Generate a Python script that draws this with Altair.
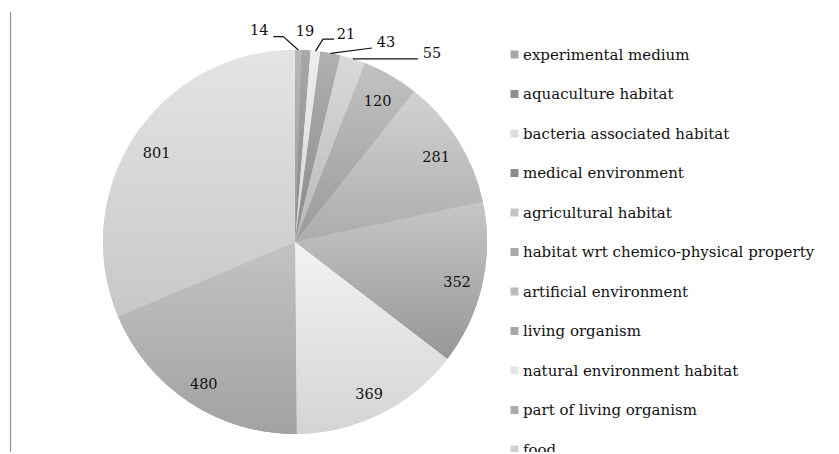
import math
import pandas as pd
import altair as alt

categories = [
    "experimental medium", "aquaculture habitat", "bacteria associated habitat",
    "medical environment", "agricultural habitat",
    "habitat wrt chemico-physical property", "artificial environment",
    "living organism", "natural environment habitat", "part of living organism", "food",
]
values = [14, 19, 21, 43, 55, 120, 281, 352, 369, 480, 801]
# slice shading: light (top) and dark (bottom) tone of each slice
tops = ["#b8b8b8", "#a8a8a8", "#eeeeee", "#b0b0b0", "#dadada", "#c2c2c2",
        "#d2d2d2", "#c6c6c6", "#f3f3f3", "#c3c3c3", "#e4e4e4"]
bottoms = ["#999999", "#888888", "#d6d6d6", "#8a8a8a", "#b8b8b8", "#9a9a9a",
           "#acacac", "#979797", "#d4d4d4", "#a2a2a2", "#c8c8c8"]
legend_colors = ["#a6a6a6", "#8f8f8f", "#dcdcdc", "#8c8c8c", "#c4c4c4", "#a8a8a8",
                 "#bcbcbc", "#a8a8a8", "#e6e6e6", "#acacac", "#d0d0d0"]

# layout (style) constants
R = 192.0
CX, CY = 287, 234
FONT = "DejaVu Serif"
LABEL_FRAC = 0.865
small_layout = {
    "experimental medium": {"label": (-39, -19), "leader": [(-15, -13.5), (-25, -13.5)]},
    "aquaculture habitat": {"label": (-1, -18.5), "leader": []},
    "bacteria associated habitat": {"label": (30.5, -15.6), "leader": [(7.5, -12), (18.5, -12)]},
    "medical environment": {"label": (55.6, -9.8), "leader": [(41.6, -5.3)]},
    "agricultural habitat": {"label": (79, -5.4), "leader": [(65, 0)]},
}

total = sum(values)
rows, big_rows, small_rows, line_rows = [], [], [], []
cum = 0
for i, (c, v) in enumerate(zip(categories, values)):
    start = cum
    mid = (cum + v / 2) / total * 2 * math.pi
    cum += v
    ux, uy = math.sin(mid), -math.cos(mid)
    rows.append({"cat": c, "value": v, "idx": i, "start": start, "end": cum})
    if c in small_layout:
        lay = small_layout[c]
        lx, ly = lay["label"]
        small_rows.append({"cat": c, "txt": str(v), "x": ux + lx / R, "y": uy + ly / R})
        if lay["leader"]:
            line_rows.append({"cat": c, "pt": 0, "x": ux, "y": uy})
            for k, (px, py) in enumerate(lay["leader"]):
                line_rows.append({"cat": c, "pt": k + 1, "x": ux + px / R, "y": uy + py / R})
    else:
        big_rows.append({"cat": c, "txt": str(v), "x": ux * LABEL_FRAC, "y": uy * LABEL_FRAC})

df = pd.DataFrame(rows)
xs = alt.Scale(domain=[-1, 1], range=[CX - R, CX + R])
ys = alt.Scale(domain=[-1, 1], range=[CY - R, CY + R])
ts = alt.Scale(domain=[0, total], range=[0, 2 * math.pi])

base_arcs = alt.Chart(df).mark_arc(radius=R, strokeWidth=0).encode(
    theta=alt.Theta("start:Q", scale=ts),
    theta2="end:Q",
    color=alt.Color("cat:N", scale=alt.Scale(domain=categories, range=legend_colors),
                    legend=alt.Legend(title=None, orient="none", legendX=499, legendY=39,
                                      symbolType="square", symbolSize=64, symbolStrokeWidth=0,
                                      labelFont=FONT, labelFontSize=15, labelColor="#111",
                                      labelOffset=1, rowPadding=23.5, padding=0,
                                      labelLimit=400)),
    x=alt.value(CX), y=alt.value(CY),
)

shaded = []
for c, t, b in zip(categories, tops, bottoms):
    grad = alt.Gradient(gradient="linear", x1=0, y1=0, x2=0, y2=1,
                        stops=[alt.GradientStop(color=t, offset=0),
                               alt.GradientStop(color=b, offset=1)])
    shaded.append(
        alt.Chart(df).transform_filter(alt.datum.cat == c)
        .mark_arc(radius=R, strokeWidth=0, color=grad)
        .encode(theta=alt.Theta("start:Q", scale=ts), theta2="end:Q",
                x=alt.value(CX), y=alt.value(CY))
    )

big_text = alt.Chart(pd.DataFrame(big_rows)).mark_text(
    font=FONT, fontSize=14.5, color="#111", align="center", baseline="middle", dy=4
).encode(x=alt.X("x:Q", scale=xs, axis=None), y=alt.Y("y:Q", scale=ys, axis=None), text="txt:N")

small_text = alt.Chart(pd.DataFrame(small_rows)).mark_text(
    font=FONT, fontSize=14.5, color="#111", align="center", baseline="middle"
).encode(x=alt.X("x:Q", scale=xs, axis=None), y=alt.Y("y:Q", scale=ys, axis=None), text="txt:N")

leaders = alt.Chart(pd.DataFrame(line_rows)).mark_line(color="#111", strokeWidth=1.2).encode(
    x=alt.X("x:Q", scale=xs, axis=None), y=alt.Y("y:Q", scale=ys, axis=None),
    detail="cat:N", order="pt:Q",
)

edge = alt.Chart(pd.DataFrame({"v": [0]})).mark_rule(color="#9a9a9a", strokeWidth=1.3).encode(
    x=alt.value(2.5), y=alt.value(4), y2=alt.value(446)
)

chart = alt.layer(base_arcs, *shaded, leaders, big_text, small_text, edge).properties(
    width=823, height=444, padding=0, autosize=alt.AutoSizeParams(type="none")
).configure_view(strokeWidth=0)

chart.save("out.html", embed_options={"renderer": "svg", "actions": False})
